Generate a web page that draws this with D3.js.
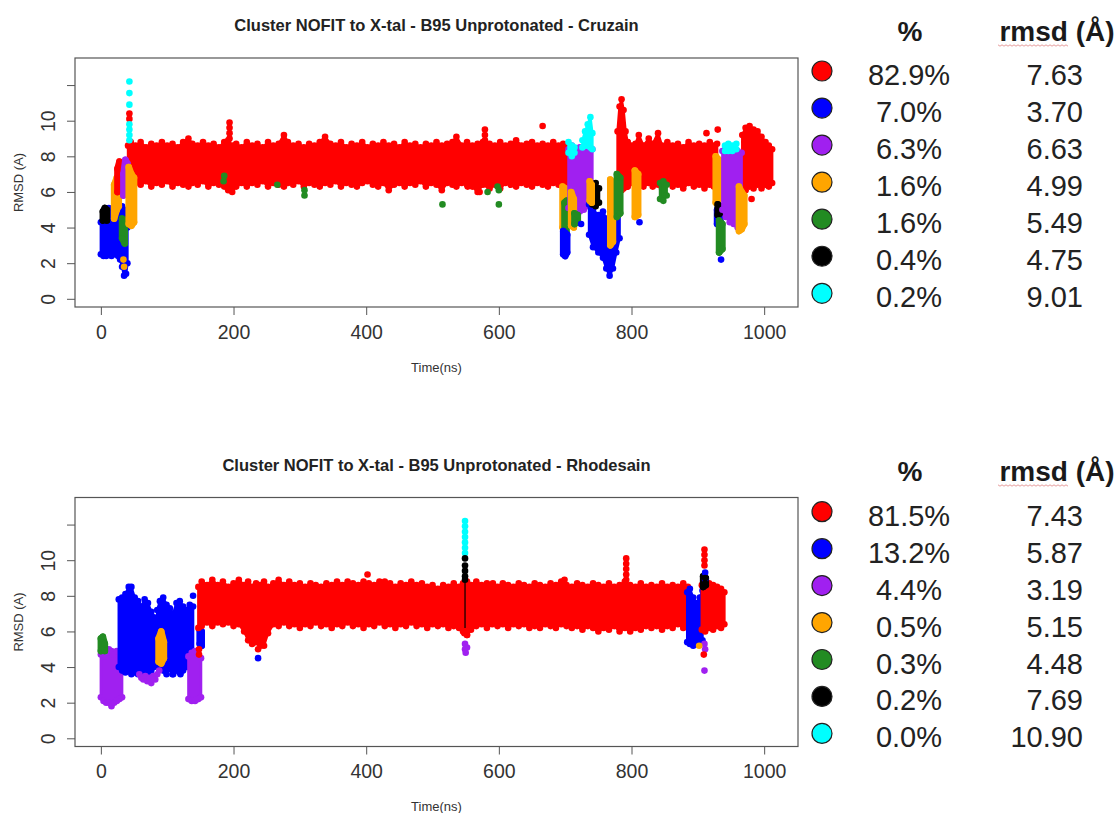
<!DOCTYPE html>
<html>
<head>
<meta charset="utf-8">
<script src="https://cdn.jsdelivr.net/npm/d3@7"></script>
<style>
  body { margin: 0; background: #fff; }
  svg { display: block; }
  text { font-family: "Liberation Sans", Arial, "Helvetica", sans-serif; }
</style>
</head>
<body>
<svg id="chart" width="1118" height="813"></svg>
<script>
// Cluster indices (legend order)
const R = 0, B = 1, P = 2, O = 3, G = 4, K = 5, C = 6;
const clusterColors = ["#ff0000", "#0000ff", "#a020f0", "#ffa500", "#228b22", "#000000", "#00ffff"];

// Axis ticks
const xTickValues = [0, 200, 400, 600, 800, 1000];
const yTickValues = [0, 2, 4, 6, 8, 10, 12];
const yTickLabels = ["0", "2", "4", "6", "8", "10", ""];

// Legend tables
const cruzainPct = ["82.9%", "7.0%", "6.3%", "1.6%", "1.6%", "0.4%", "0.2%"];
const cruzainRmsd = ["7.63", "3.70", "6.63", "4.99", "5.49", "4.75", "9.01"];
const rhodesainPct = ["81.5%", "13.2%", "4.4%", "0.5%", "0.3%", "0.2%", "0.0%"];
const rhodesainRmsd = ["7.43", "5.87", "3.19", "5.15", "4.48", "7.69", "10.90"];

// Dense trajectory stretches: [cluster, rows of [time ns, min RMSD, max RMSD]]
const cruzainBands = [
  [R, [[41,6.6,8.6],[45,6.3,8.8],[52,6.5,8.6],[60,6.4,8.8],[68,6.6,8.5],[76,6.3,8.7],[84,6.5,8.6],[92,6.4,8.8],[100,6.6,8.6],[108,6.3,8.7],[116,6.5,8.5],[124,6.4,8.8],[132,6.3,9.0],[138,6.5,8.7],[146,6.4,8.6],[154,6.6,8.8],[162,6.3,8.6],[170,6.5,8.7],[178,6.4,8.5],[186,6.3,8.8],[192,6.1,8.9],[198,6.0,8.6],[204,6.3,8.7],[212,6.5,8.5],[220,6.3,8.8],[228,6.5,8.6],[236,6.4,8.7],[244,6.6,8.5],[252,6.3,8.8],[260,6.5,8.6],[268,6.4,8.7],[276,6.3,9.2],[282,6.5,8.8],[290,6.4,8.6],[298,6.6,8.7],[306,6.3,8.5],[314,6.5,8.7],[322,6.4,8.6],[330,6.3,8.8],[338,6.5,9.1],[346,6.4,8.7],[354,6.6,8.6],[362,6.3,8.8],[370,6.5,8.5],[378,6.4,8.7],[386,6.3,8.6],[394,6.5,8.8],[402,6.6,8.5],[410,6.4,8.7],[418,6.3,8.6],[426,6.5,8.8],[434,6.1,8.6],[442,6.4,8.7],[450,6.5,8.5],[458,6.3,8.8],[466,6.5,8.6],[474,6.4,8.7],[482,6.6,8.5],[490,6.3,8.7],[498,6.5,8.6],[506,6.4,8.8],[514,6.1,8.6],[522,6.5,8.7],[530,6.4,8.8],[536,6.3,9.1],[544,6.5,8.6],[552,6.4,8.8],[560,6.3,8.6],[568,6.0,8.7],[576,6.4,8.8],[586,6.2,8.7],[594,6.4,8.6],[602,6.2,8.8],[610,6.5,8.6],[618,6.4,8.7],[626,6.3,8.9],[634,6.5,8.6],[642,6.4,8.7],[650,6.3,8.8],[658,6.5,8.6],[666,6.4,8.7],[674,6.3,8.6],[682,6.5,8.8],[690,6.4,8.6],[697,6.3,8.7],[703,6.4,8.6]]],
  [B, [[0,2.5,4.3],[4,2.4,4.6],[8,2.4,5.0],[12,2.5,5.1],[16,2.4,4.9],[20,2.5,4.6],[23,2.6,4.4]]],
  [B, [[26,2.4,4.8],[29,2.2,5.0],[32,1.8,5.2],[35,1.3,5.0],[38,1.4,4.6],[40,2.0,4.0]]],
  [K, [[3,4.4,4.9],[6,4.5,5.1],[9,4.4,5.0]]],
  [O, [[20,4.5,6.4],[24,5.0,6.8],[27,5.2,6.3]]],
  [R, [[25,6.0,7.3],[28,6.1,7.7],[31,6.2,7.1]]],
  [P, [[34,5.8,7.0],[37,5.9,7.8],[40,6.2,7.6]]],
  [G, [[32,3.4,4.5],[36,3.1,4.4]]],
  [O, [[42,4.2,7.4],[46,4.1,7.0],[50,4.3,6.8]]],
  [R, [[779,6.5,9.4],[782,6.3,10.8],[785,6.1,11.2],[788,6.2,10.6],[791,6.3,9.4],[794,6.3,8.8]]],
  [R, [[794,6.3,8.8],[800,6.5,8.6],[806,6.2,8.7],[811,6.4,9.2],[818,6.3,8.6],[826,6.5,9.0],[832,6.3,8.7],[840,6.4,9.3],[846,6.2,8.6],[854,6.5,8.8],[862,6.3,8.6],[870,6.4,8.7],[878,6.2,8.5],[886,6.5,8.8],[894,6.3,8.6],[902,6.4,8.7],[910,6.2,8.6],[918,6.4,8.8],[924,6.3,8.6],[929,6.4,8.7]]],
  [R, [[967,6.3,9.2],[972,6.1,9.6],[978,6.3,9.7],[984,6.2,9.5],[990,6.4,9.4],[996,6.2,9.1],[1002,6.4,8.8],[1007,6.3,8.6],[1012,6.5,8.4]]],
  [O, [[696,4.0,6.3],[700,3.9,6.2],[703,4.1,6.0]]],
  [G, [[699,3.7,5.4],[702,3.7,5.5]]],
  [B, [[697,2.5,3.8],[700,2.4,3.7],[703,2.6,3.6]]],
  [P, [[705,5.1,8.4],[710,4.8,8.6],[716,4.6,8.3],[722,4.9,8.5],[728,5.0,8.4],[734,5.2,8.6],[741,5.4,8.4]]],
  [C, [[705,8.2,8.8],[710,8.0,8.6],[714,8.2,8.5]]],
  [C, [[726,8.5,8.9],[730,8.6,9.4],[734,8.6,9.8],[738,8.5,10.2],[741,8.4,9.3]]],
  [O, [[709,4.1,6.0],[713,4.0,5.6]]],
  [G, [[714,4.2,4.8],[719,4.3,4.7]]],
  [B, [[736,3.6,5.3],[742,2.9,5.0],[750,2.6,4.7],[757,2.3,4.9],[762,1.7,4.5],[767,1.3,4.4],[772,1.7,4.8],[777,2.6,5.2],[782,3.4,5.0]]],
  [K, [[741,5.3,6.4],[746,5.2,6.5],[751,5.4,6.2]]],
  [O, [[737,5.5,6.6],[740,5.4,6.4]]],
  [O, [[768,3.0,6.7],[772,3.2,6.5]]],
  [G, [[778,4.6,7.0],[783,4.8,6.8]]],
  [O, [[805,4.6,7.2],[810,4.7,7.0]]],
  [G, [[843,5.6,6.5],[848,5.5,6.6],[853,5.8,6.4]]],
  [O, [[927,5.4,8.0],[932,5.6,7.8]]],
  [B, [[929,4.2,5.0],[934,4.3,5.1]]],
  [K, [[930,4.7,5.3],[934,4.8,5.2]]],
  [G, [[932,2.6,4.4],[937,2.8,4.2]]],
  [P, [[937,5.0,8.3],[942,4.6,8.5],[948,4.3,8.4],[954,4.2,8.5],[960,4.0,8.3],[966,4.3,8.2]]],
  [C, [[941,8.3,8.6],[946,8.3,8.7],[952,8.3,8.6],[958,8.4,8.7]]],
  [O, [[962,3.8,6.3],[966,3.9,6.0],[970,4.2,5.8]]]
];

// Isolated frames: [time ns, RMSD, cluster]
const cruzainPoints = [
  [43,12.2,C],[43,11.55,C],[43,10.9,C],[43,10.4,R],[43,10.1,R],[43,9.8,C],[43,9.5,C],[43,9.2,C],[43,8.9,C],
  [34,2.2,O],[35,1.8,O],
  [194,9.0,R],[194,9.3,R],[194,9.6,R],[194,9.9,R],
  [579,8.9,R],[579,9.2,R],[579,9.5,R],
  [666,9.7,R],[571,6.0,R],[553,6.3,R],
  [185,6.6,G],[186,6.9,G],[266,6.4,G],[307,5.8,G],[307,6.1,G],
  [515,5.3,G],[583,6.0,G],[600,5.3,G],[600,6.1,G],[598,6.3,G],
  [724,4.2,B],[812,4.3,B],[935,2.2,B],
  [913,9.3,R],[930,9.5,R],[981,5.6,R]
];
const cruzainStrokes = [];

const rhodesainBands = [
  [P, [[0,2.3,4.7],[4,2.1,4.9],[8,2.0,4.6],[12,2.0,5.0],[16,1.8,4.9],[20,2.0,4.7],[24,2.1,4.9],[28,2.2,4.6],[32,2.3,4.4]]],
  [G, [[0,4.9,5.6],[3,5.0,5.7],[6,4.9,5.3]]],
  [B, [[27,4.0,7.8],[32,3.8,7.9],[37,3.7,8.1],[42,3.8,8.5],[46,3.6,8.5],[51,3.7,7.9],[56,3.6,7.7],[61,3.7,7.4],[66,3.6,7.8],[71,3.7,7.6],[76,3.8,7.1],[80,4.0,6.8],[84,4.1,6.6]]],
  [B, [[85,4.3,7.2],[89,4.0,7.7],[94,3.8,7.9],[99,3.6,7.5],[104,3.9,7.3],[109,3.6,7.0],[114,3.8,7.6],[119,3.7,7.7],[124,3.8,7.4],[129,4.0,7.2],[134,4.2,7.5],[139,4.4,7.4]]],
  [O, [[87,4.3,5.6],[91,4.2,6.0],[95,4.5,5.4]]],
  [P, [[132,2.2,4.6],[137,2.1,4.8],[142,2.1,4.9],[147,2.2,4.7],[151,2.3,4.5]]],
  [B, [[149,5.3,6.1],[152,5.2,6.0]]],
  [R, [[147,6.2,8.5],[152,6.3,8.8],[160,6.5,8.6],[168,6.3,8.9],[176,6.5,8.6],[184,6.4,8.8],[192,6.5,8.5],[200,6.3,8.7],[208,6.4,8.9],[216,6.0,8.6],[222,5.5,8.8],[228,5.3,8.5],[234,5.4,8.7],[240,5.3,8.6],[246,5.2,8.8],[252,5.9,8.5],[260,6.4,8.7],[268,6.3,8.9],[276,6.5,8.6],[284,6.3,8.8],[292,6.4,8.6],[300,6.2,8.7],[308,6.4,8.5],[316,6.3,8.7],[324,6.5,8.6],[332,6.3,8.5],[340,6.4,8.7],[348,6.2,8.6],[356,6.4,8.8],[364,6.3,8.6],[372,6.5,8.8],[380,6.3,8.7],[388,6.4,8.6],[396,6.2,8.8],[404,6.4,8.7],[412,6.3,8.6],[420,6.5,8.8],[428,6.3,8.6],[436,6.4,8.7],[444,6.2,8.5],[452,6.4,8.7],[460,6.3,8.6],[468,6.5,8.8],[476,6.3,8.6],[484,6.4,8.7],[492,6.2,8.5],[500,6.4,8.6],[508,6.3,8.4],[516,6.4,8.6],[524,6.2,8.5],[532,6.3,8.7],[540,6.2,8.5],[546,6.0,8.7],[552,5.8,8.8],[558,6.1,8.6],[566,6.3,8.8],[574,6.4,8.6],[582,6.2,8.7],[590,6.4,8.6],[598,6.3,8.5],[606,6.4,8.7],[614,6.2,8.6],[622,6.4,8.5],[630,6.3,8.7],[638,6.4,8.6],[646,6.2,8.5],[654,6.3,8.7],[662,6.2,8.6],[670,6.4,8.5],[678,6.3,8.7],[686,6.2,8.6],[694,6.4,8.8],[702,6.3,8.6],[710,6.2,8.5],[718,6.3,8.7],[726,6.1,8.6],[734,6.3,8.5],[742,6.2,8.7],[750,6.0,8.6],[758,6.2,8.5],[766,6.1,8.7],[774,6.3,8.5],[782,6.0,8.6],[790,6.2,8.8],[798,6.0,8.6],[806,6.2,8.5],[814,6.1,8.7],[822,6.3,8.5],[830,6.2,8.6],[838,6.3,8.5],[846,6.1,8.7],[854,6.3,8.5],[862,6.2,8.6],[870,6.4,8.5],[878,6.2,8.7],[885,6.3,8.5]]],
  [B, [[884,5.4,8.2],[888,5.3,8.4],[893,5.2,7.9],[898,5.3,7.6],[903,5.4,7.9],[907,5.5,8.3]]],
  [R, [[906,6.1,8.6],[911,6.0,8.5],[917,6.2,8.7],[923,6.1,8.6],[929,6.3,8.5],[935,6.2,8.4],[940,6.4,8.2]]],
  [K, [[908,8.5,9.1],[912,8.6,9.0]]]
];

const rhodesainPoints = [
  [58,3.6,P],[61,3.4,P],[64,3.3,P],[67,3.5,P],[70,3.2,P],[73,3.4,P],[76,3.1,P],[79,3.5,P],[82,3.3,P],[85,3.6,P],[88,3.8,P],
  [108,3.6,B],[120,3.6,B],[139,8.0,B],
  [148,4.7,R],[148,5.0,R],
  [237,5.0,R],[241,5.2,R],[237,4.5,B],
  [402,9.2,R],[428,8.8,R],[591,8.7,R],[699,8.9,R],
  [549,12.2,C],[549,11.9,C],[549,11.6,C],[549,11.3,C],[549,11.0,C],[549,10.7,C],[549,10.4,C],
  [549,10.1,K],[549,9.7,K],[549,9.4,K],[549,9.1,K],[549,8.9,K],
  [548,5.9,R],[552,5.8,R],
  [549,5.3,P],[549,5.0,P],[550,4.8,P],[552,5.1,P],
  [792,8.9,R],[792,9.2,R],[792,9.5,R],[792,9.8,R],[792,10.1,R],
  [910,9.7,R],[910,10.0,R],[910,10.3,R],[910,10.6,R],
  [911,9.3,B],[911,8.9,B],[911,8.7,K],[911,9.0,K],
  [910,5.3,P],[911,5.0,P],[909,4.7,R],[910,3.8,P],[902,5.2,O]
];
// Thin trace segments: [time ns, RMSD from, RMSD to, cluster]
const rhodesainStrokes = [[549, 6.2, 8.9, K]];

const svg = d3.select("#chart");
svg.append("rect").attr("width", 1118).attr("height", 813).attr("fill", "#fff");

const x = d3.scaleLinear().domain([-39, 1051]).range([75, 798]);
const yDomain = [-0.46, 13.52];
const dotR = 3.3;

function drawPanel(cfg) {
  const g = svg.append("g");
  const y = d3.scaleLinear().domain(yDomain).range([cfg.bottom, cfg.top]);

  const area = d3.area()
    .x(d => x(d[0]))
    .y0(d => y(d[1]))
    .y1(d => y(d[2]));

  // dense stretches of frames: filled envelope with frame dots along both edges
  cfg.bands.forEach(([c, rows]) => {
    const col = clusterColors[c];
    const span = rows[rows.length - 1][0] - rows[0][0];
    const bg = g.append("g");
    bg.append("path")
      .datum(rows)
      .attr("d", area)
      .attr("fill", col)
      .attr("stroke", col)
      // short stretches are a single column of frames, a dot wide
      .attr("stroke-width", span < 9 ? 2 * dotR : 2.5)
      .attr("stroke-linejoin", "round")
      .attr("stroke-linecap", "round");
    const edge = rows.flatMap(r => [[r[0], r[1]], [r[0], r[2]]]);
    bg.selectAll("circle")
      .data(edge)
      .join("circle")
      .attr("cx", d => x(d[0]))
      .attr("cy", d => y(d[1]))
      .attr("r", dotR)
      .attr("fill", col);
  });

  g.selectAll("line.trace")
    .data(cfg.strokes)
    .join("line")
    .attr("class", "trace")
    .attr("x1", d => x(d[0])).attr("x2", d => x(d[0]))
    .attr("y1", d => y(d[1])).attr("y2", d => y(d[2]))
    .attr("stroke", d => clusterColors[d[3]])
    .attr("stroke-width", 1.2);

  // isolated frames
  g.selectAll("circle.frame")
    .data(cfg.points)
    .join("circle")
    .attr("class", "frame")
    .attr("cx", d => x(d[0]))
    .attr("cy", d => y(d[1]))
    .attr("r", dotR)
    .attr("fill", d => clusterColors[d[2]]);

  // plot box
  g.append("rect")
    .attr("x", 75).attr("y", cfg.top)
    .attr("width", 723).attr("height", cfg.bottom - cfg.top)
    .attr("fill", "none").attr("stroke", "#555").attr("stroke-width", 1.2);

  // y axis
  const yAxis = d3.axisLeft(y).tickValues(yTickValues).tickSize(8)
    .tickFormat((d, i) => yTickLabels[i]);
  const ya = g.append("g").attr("transform", "translate(75,0)").call(yAxis);
  ya.select(".domain").remove();
  ya.selectAll(".tick line").attr("stroke", "#555");
  ya.selectAll(".tick text")
    .attr("transform", "rotate(-90)")
    .attr("x", 0).attr("y", -27).attr("dy", null)
    .attr("text-anchor", "middle")
    .attr("dominant-baseline", "central")
    .attr("font-size", 19.5)
    .attr("font-family", "Liberation Sans, Arial, sans-serif")
    .attr("fill", "#333");

  // x axis
  const xAxis = d3.axisBottom(x).tickValues(xTickValues).tickSize(8).tickFormat(d3.format("d"));
  const xa = g.append("g").attr("transform", `translate(0,${cfg.bottom})`).call(xAxis);
  xa.select(".domain").remove();
  xa.selectAll(".tick line").attr("stroke", "#555");
  xa.selectAll(".tick text")
    .attr("y", 24.5).attr("dy", null)
    .attr("dominant-baseline", "central")
    .attr("font-size", 19.5)
    .attr("font-family", "Liberation Sans, Arial, sans-serif")
    .attr("fill", "#333");

  // titles
  g.append("text")
    .attr("x", 436.5).attr("y", cfg.top - 33)
    .attr("text-anchor", "middle").attr("dominant-baseline", "central")
    .attr("font-size", 16.5).attr("font-weight", "bold").attr("fill", "#222")
    .text(cfg.title);
  g.append("text")
    .attr("x", 436.5).attr("y", cfg.bottom + 60)
    .attr("text-anchor", "middle").attr("dominant-baseline", "central")
    .attr("font-size", 13).attr("fill", "#333")
    .text("Time(ns)");
  g.append("text")
    .attr("transform", `translate(18,${(cfg.top + cfg.bottom) / 2}) rotate(-90)`)
    .attr("text-anchor", "middle").attr("dominant-baseline", "central")
    .attr("font-size", 13).attr("fill", "#333")
    .text("RMSD (A)");

  // legend table
  const lg = svg.append("g");
  lg.append("text")
    .attr("x", 910).attr("y", cfg.headerBase)
    .attr("text-anchor", "middle")
    .attr("font-size", 28).attr("font-weight", "bold").attr("fill", "#1a1a1a")
    .text("%");
  lg.append("text")
    .attr("x", 1057).attr("y", cfg.headerBase)
    .attr("text-anchor", "middle")
    .attr("font-size", 28).attr("font-weight", "bold").attr("fill", "#1a1a1a")
    .text("rmsd (Å)");
  // spell-check squiggle under the header word
  const sq = d3.range(0, 36).map(i => [998 + i * 2, cfg.headerBase + 4 + (i % 2 ? 1.2 : -0.2)]);
  lg.append("path")
    .attr("d", d3.line()(sq))
    .attr("fill", "none").attr("stroke", "#d04a4a").attr("stroke-width", 1).attr("opacity", 0.55);

  const rowY = i => cfg.legendTop + i * cfg.legendStep;
  lg.selectAll("circle.key")
    .data(clusterColors)
    .join("circle")
    .attr("class", "key")
    .attr("cx", 822).attr("cy", (d, i) => rowY(i))
    .attr("r", 10)
    .attr("fill", d => d)
    .attr("stroke", "#222").attr("stroke-width", 1.2);
  lg.selectAll("text.pct")
    .data(cfg.pct)
    .join("text")
    .attr("class", "pct")
    .attr("x", 909).attr("y", (d, i) => rowY(i) + 14)
    .attr("text-anchor", "middle")
    .attr("font-size", 29).attr("fill", "#222")
    .text(d => d);
  lg.selectAll("text.rmsd")
    .data(cfg.rmsd)
    .join("text")
    .attr("class", "rmsd")
    .attr("x", 1083).attr("y", (d, i) => rowY(i) + 14)
    .attr("text-anchor", "end")
    .attr("font-size", 29).attr("fill", "#222")
    .text(d => d);
}

drawPanel({
  top: 58, bottom: 307,
  title: "Cluster NOFIT to X-tal - B95 Unprotonated - Cruzain",
  bands: cruzainBands, points: cruzainPoints, strokes: cruzainStrokes,
  pct: cruzainPct, rmsd: cruzainRmsd,
  headerBase: 41, legendTop: 71, legendStep: 37.05
});
drawPanel({
  top: 497.5, bottom: 746.5,
  title: "Cluster NOFIT to X-tal - B95 Unprotonated - Rhodesain",
  bands: rhodesainBands, points: rhodesainPoints, strokes: rhodesainStrokes,
  pct: rhodesainPct, rmsd: rhodesainRmsd,
  headerBase: 481, legendTop: 511.7, legendStep: 36.95
});
</script>
</body>
</html>
